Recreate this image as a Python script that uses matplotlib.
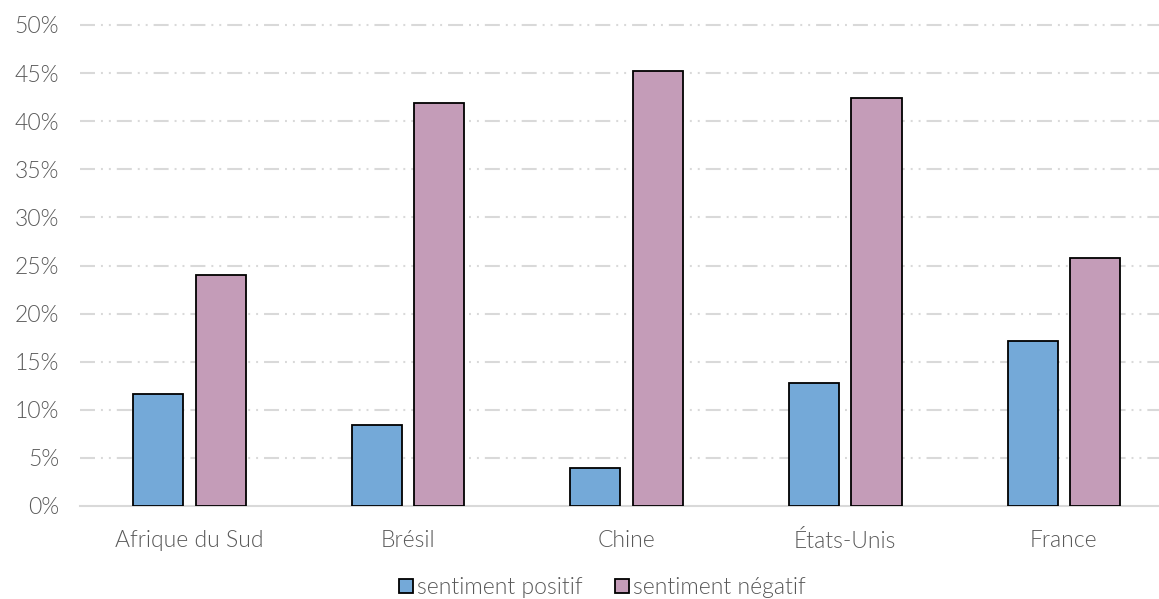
import matplotlib
matplotlib.use("Agg")
import matplotlib.pyplot as plt
import numpy as np

categories = ["Afrique du Sud", "Brésil", "Chine", "États-Unis", "France"]
positif = [11.6, 8.4, 3.95, 12.8, 17.15]
negatif = [24.0, 41.9, 45.2, 42.4, 25.8]
series_labels = ["sentiment positif", "sentiment négatif"]
yticks = [0, 5, 10, 15, 20, 25, 30, 35, 40, 45, 50]

plt.rcParams['font.family'] = ['Lato', 'DejaVu Sans']
plt.rcParams['font.weight'] = 300
plt.rcParams['lines.scale_dashes'] = False

fig = plt.figure(figsize=(11.59, 5.99), dpi=100)
ax = fig.add_axes([80/1159, 1-506/599, 1-80/1159, (506-25)/599])

x = np.arange(len(categories))
w = 0.229
off = 0.143
c_pos = "#74A9D8"
c_neg = "#C49CB8"
ax.bar(x - off, positif, w, color=c_pos, edgecolor="black", linewidth=1.3, label=series_labels[0], zorder=3)
ax.bar(x + off, negatif, w, color=c_neg, edgecolor="black", linewidth=1.3, label=series_labels[1], zorder=3)

ax.set_xlim(-0.5, 4.435)
ax.set_ylim(0, 50)
ax.set_yticks(yticks)
ax.set_yticklabels([f"{v}%" for v in yticks])
ax.set_xticks(x)
ax.set_xticklabels(categories)

for v in yticks[1:]:
    ax.axhline(v, color="#d9d9d9", linewidth=1.5,
               linestyle=(0, (10.8, 4.3, 1.4, 4.3, 1.4, 4.3)), zorder=1, clip_on=False)

for s in ["top", "right", "left"]:
    ax.spines[s].set_visible(False)
ax.spines["bottom"].set_color("#d9d9d9")
ax.spines["bottom"].set_linewidth(1.5)
ax.tick_params(axis="both", length=0, labelsize=16.5, labelcolor="#595959")
ax.tick_params(axis="y", pad=15)
ax.tick_params(axis="x", pad=17)

leg = fig.legend(loc="lower center", bbox_to_anchor=(0.52, -0.014), ncol=2, frameon=False,
                 prop={"size": 16.5, "weight": 300}, handlelength=0.6, handleheight=0.6,
                 handletextpad=0.2, columnspacing=1.4, borderaxespad=0.0)
for t in leg.get_texts():
    t.set_color("#595959")

fig.savefig("out.png", dpi=100)
